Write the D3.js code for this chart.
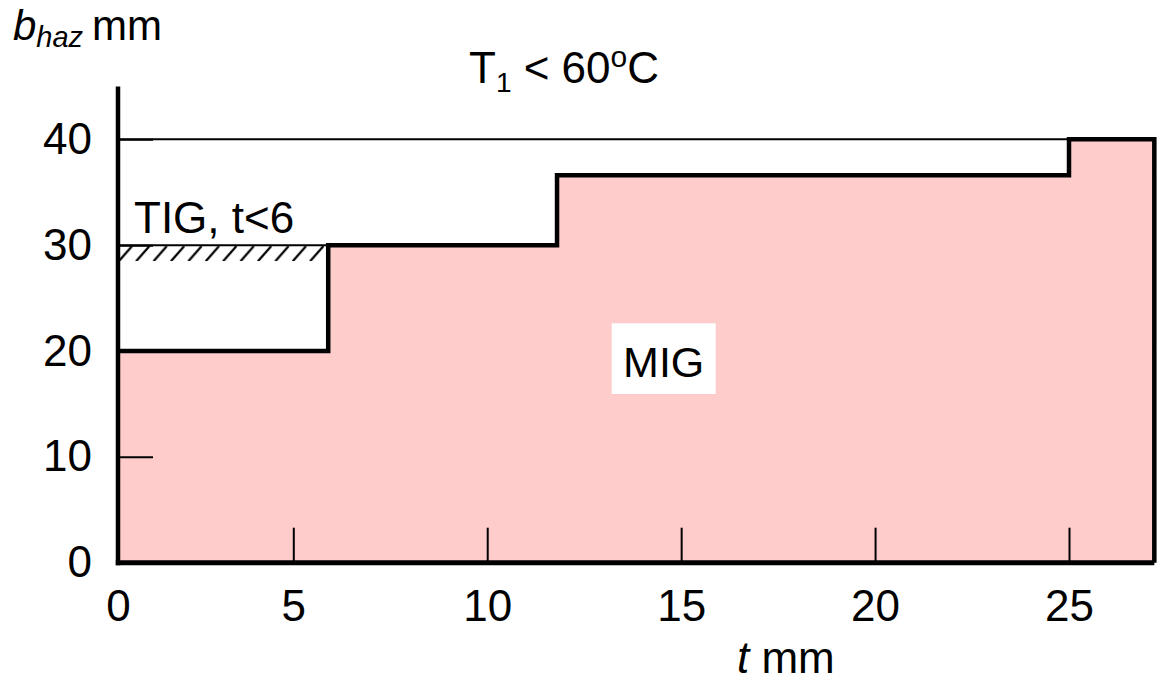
<!DOCTYPE html>
<html><head><meta charset="utf-8">
<script src="https://cdn.jsdelivr.net/npm/d3@7"></script>
<style>
html,body{margin:0;padding:0;background:#fff;}
text{font-family:"Liberation Sans",Arial,sans-serif;fill:#000;}
</style></head>
<body>
<svg id="chart" width="1168" height="684"></svg>
<script>
// ---- data ----
const stepT = [0, 5.9, 11.8, 25, 27.2];      // t (mm) where each MIG step begins (last = right edge)
const stepB = [20, 30, 36.6, 40, 40];        // b_haz (mm) limit for each step
const xTicks = [0, 5, 10, 15, 20, 25];
const yTicks = [0, 10, 20, 30, 40];
const tigLimit = [30];                       // TIG, t<6 limit line
const tigT = [0, 5.9];
const tigBand = [28.5, 30];                  // hatched band
const upperLine = [40];                      // thin line at 40
const upperT = [0, 25];

const svg = d3.select("#chart");
const x = d3.scaleLinear().domain([0, 5, 25]).range([118, 293.3, 1069]);
const y = d3.scaleLinear().domain([0, 40]).range([562.7, 139.3]);

// pattern for hatch
const defs = svg.append("defs");
const pat = defs.append("pattern").attr("id","hatch").attr("patternUnits","userSpaceOnUse")
  .attr("width",17.4).attr("height",17).attr("x",x(0)).attr("y",y(30));
pat.append("line").attr("x1",0).attr("y1",17).attr("x2",14).attr("y2",1)
  .attr("stroke","#000").attr("stroke-width",2.2);

// outline points
const pts = [];
for (let i = 0; i < stepT.length - 1; i++) {
  pts.push([stepT[i], stepB[i]]);
  pts.push([stepT[i+1], stepB[i]]);
}
pts.push([stepT[stepT.length-1], 0]);
const fillPts = [[0,0]].concat(pts);

const line = d3.line().x(d => x(d[0])).y(d => y(d[1]));

// fill
svg.append("path").attr("d", line(fillPts) + "Z").attr("fill", "#FFCCCC");

// hatch band
svg.append("rect").attr("x", x(tigT[0])).attr("y", y(tigBand[1]))
  .attr("width", x(tigT[1]) - x(tigT[0])).attr("height", y(tigBand[0]) - y(tigBand[1]))
  .attr("fill", "url(#hatch)");

// thin lines at 30 (TIG) and 40
svg.append("path").attr("d", line([[tigT[0], tigLimit[0]], [tigT[1], tigLimit[0]]]))
  .attr("stroke", "#000").attr("stroke-width", 2).attr("fill", "none");
svg.append("path").attr("d", line([[upperT[0], upperLine[0]], [upperT[1], upperLine[0]]]))
  .attr("stroke", "#000").attr("stroke-width", 2).attr("fill", "none");

// axes
const fs = "44px";
const xAxis = svg.append("g").attr("transform", `translate(0,${y(0)})`)
  .call(d3.axisBottom(x).tickValues(xTicks).tickSize(-35).tickPadding(27).tickFormat(d3.format("d")));
const yAxis = svg.append("g").attr("transform", `translate(${x(0)},0)`)
  .call(d3.axisLeft(y).tickValues(yTicks).tickSize(-35).tickPadding(26).tickFormat(d3.format("d")));
[xAxis, yAxis].forEach(g => {
  g.select(".domain").remove();
  g.selectAll(".tick line").attr("stroke", "#000").attr("stroke-width", 2);
  g.selectAll(".tick text").style("font-size", fs).attr("fill", "#000")
    .style("font-family", '"Liberation Sans", Arial, sans-serif');
});

// outline step line
svg.append("path").attr("d", line(pts)).attr("fill", "none")
  .attr("stroke", "#000").attr("stroke-width", 4.5).attr("stroke-linejoin", "miter");

// axis lines
svg.append("line").attr("x1", x(0)).attr("x2", x(0)).attr("y1", y(45)).attr("y2", y(0) + 2.5)
  .attr("stroke", "#000").attr("stroke-width", 4.5);
svg.append("line").attr("x1", x(0) - 2.2).attr("x2", x(stepT[stepT.length-1]))
  .attr("y1", y(0)).attr("y2", y(0)).attr("stroke", "#000").attr("stroke-width", 5);

// labels
const t1 = svg.append("text").attr("x", 469).attr("y", 83).style("font-size", "44px");
t1.append("tspan").text("T");
t1.append("tspan").attr("dy", 9).style("font-size", "28px").text("1");
t1.append("tspan").attr("dy", -9).text(" < 60");
t1.append("tspan").attr("dy", -16).style("font-size", "30px").text("o");
t1.append("tspan").attr("dy", 16).text("C");

const bl = svg.append("text").attr("x", 13).attr("y", 40).style("font-size", "42px");
bl.append("tspan").style("font-style", "italic").text("b");
bl.append("tspan").attr("dy", 7).style("font-style", "italic").style("font-size", "29px").text("haz");
bl.append("tspan").attr("dy", -7).attr("x", 92).style("font-size", "42px").text("mm");

const tl = svg.append("text").attr("x", 737).attr("y", 673).style("font-size", "44px");
tl.append("tspan").style("font-style", "italic").text("t");
tl.append("tspan").text(" mm");

svg.append("text").attr("x", 134).attr("y", 233).style("font-size", "44px").text("TIG, t<6");

svg.append("rect").attr("x", 611.7).attr("y", 323.3).attr("width", 104).attr("height", 70.7).attr("fill", "#fff");
svg.append("text").attr("x", 663.7).attr("y", 377).attr("text-anchor", "middle")
  .style("font-size", "43px").text("MIG");
</script>
</body></html>
